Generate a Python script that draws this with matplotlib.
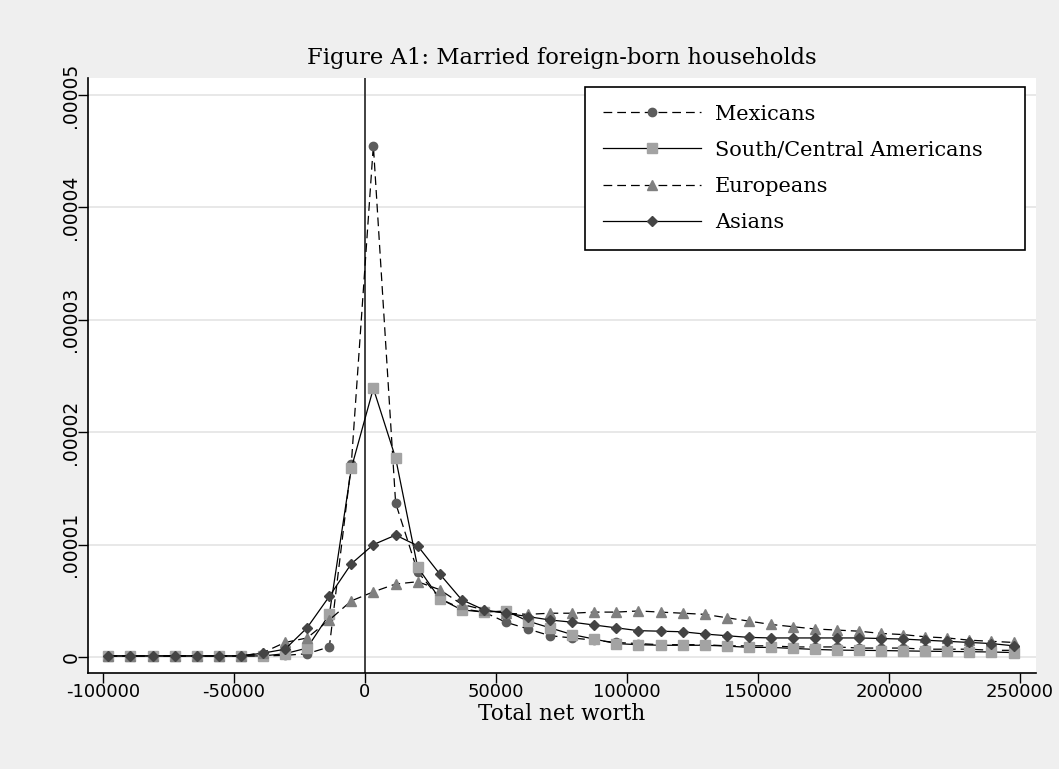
import matplotlib
matplotlib.use("Agg")
import matplotlib.pyplot as plt

# Puntos de evaluacion de la densidad (patrimonio neto total)
net_worth = [
    -97900, -89500, -81000, -72600, -64200, -55800, -47300, -38900, -30500,
    -22100, -13600, -5200, 3200, 11700, 20100, 28500, 36900, 45400, 53800,
    62200, 70600, 79100, 87500, 95900, 104300, 112800, 121200, 129600,
    138000, 146500, 154900, 163300, 171700, 180200, 188600, 197000, 205400,
    213900, 222300, 230700, 239100, 247600,
]

# Densidades en unidades de 1e-5
mexicans = [
    0.01, 0.01, 0.01, 0.01, 0.01, 0.01, 0.01, 0.01, 0.015, 0.03, 0.09, 1.72,
    4.55, 1.37, 0.76, 0.52, 0.43, 0.40, 0.31, 0.25, 0.19, 0.17, 0.15, 0.13,
    0.12, 0.11, 0.11, 0.11, 0.10, 0.10, 0.10, 0.09, 0.09, 0.09, 0.08, 0.08,
    0.08, 0.07, 0.07, 0.07, 0.06, 0.06,
]
south_central = [
    0.01, 0.01, 0.01, 0.01, 0.01, 0.01, 0.01, 0.01, 0.03, 0.08, 0.38, 1.68,
    2.39, 1.77, 0.80, 0.52, 0.42, 0.40, 0.41, 0.32, 0.26, 0.20, 0.16, 0.12,
    0.11, 0.105, 0.105, 0.105, 0.098, 0.086, 0.086, 0.077, 0.068, 0.062,
    0.06, 0.058, 0.055, 0.052, 0.05, 0.048, 0.045, 0.04,
]
europeans = [
    0.01, 0.01, 0.01, 0.01, 0.01, 0.01, 0.01, 0.04, 0.13, 0.17, 0.33, 0.50,
    0.58, 0.65, 0.67, 0.60, 0.47, 0.42, 0.39, 0.38, 0.39, 0.39, 0.40, 0.40,
    0.41, 0.40, 0.39, 0.38, 0.35, 0.32, 0.29, 0.27, 0.25, 0.24, 0.23, 0.21,
    0.20, 0.18, 0.17, 0.15, 0.14, 0.13,
]
asians = [
    0.01, 0.01, 0.01, 0.01, 0.01, 0.01, 0.01, 0.035, 0.07, 0.26, 0.54, 0.83,
    1.00, 1.085, 0.99, 0.74, 0.51, 0.42, 0.39, 0.36, 0.33, 0.31, 0.285, 0.26,
    0.235, 0.23, 0.225, 0.205, 0.19, 0.175, 0.17, 0.17, 0.17, 0.17, 0.17,
    0.165, 0.16, 0.15, 0.14, 0.13, 0.12, 0.10,
]
SCALE = 1e-5

x_ticks = [-100000, -50000, 0, 50000, 100000, 150000, 200000, 250000]
y_ticks = [0, 0.00001, 0.00002, 0.00003, 0.00004, 0.00005]
y_tick_labels = ["0", ".00001", ".00002", ".00003", ".00004", ".00005"]

serif = "DejaVu Serif"
sans = "DejaVu Sans"

fig = plt.figure(figsize=(10.59, 7.69), dpi=100, facecolor="#efefef")
ax = fig.add_axes([0.0831, 0.1248, 0.8952, 0.7738])
ax.set_facecolor("white")

dash = (0, (7, 4))
series = [
    ("Mexicans", mexicans, dash, "o", "#5c5c5c", 6),
    ("South/Central Americans", south_central, "-", "s", "#a3a3a3", 7.5),
    ("Europeans", europeans, dash, "^", "#808080", 7),
    ("Asians", asians, "-", "D", "#444444", 5.5),
]
for name, vals, ls, mk, col, ms in series:
    ax.plot(net_worth, [v * SCALE for v in vals], linestyle=ls, color="black",
            linewidth=0.9, marker=mk, markersize=ms, markerfacecolor=col,
            markeredgecolor=col, label=name)

# Linea vertical en cero
ax.axvline(0, color="#333333", linewidth=1.3, zorder=1)

ax.set_xlim(-105700, 256100)
ax.set_ylim(-0.142e-5, 5.151e-5)

ax.set_yticks(y_ticks)
ax.set_yticklabels(y_tick_labels, rotation=90, va="center", family=sans,
                   fontsize=13.5)
ax.set_xticks(x_ticks)
ax.set_xticklabels([str(t) for t in x_ticks], family=sans, fontsize=13)
ax.tick_params(axis="both", direction="out", length=7.5, width=1,
               color="black")
ax.tick_params(axis="x", pad=0)
ax.tick_params(axis="y", pad=-2)

ax.grid(axis="y", color="#e6e6e6", linewidth=1.3, zorder=0)
ax.set_axisbelow(True)

for side in ["top", "right"]:
    ax.spines[side].set_visible(False)
for side in ["left", "bottom"]:
    ax.spines[side].set_linewidth(1.2)
    ax.spines[side].set_color("black")

ax.set_title("Figure A1: Married foreign-born households", family=serif,
             fontsize=16.3, pad=10)
ax.set_xlabel("Total net worth", family=serif, fontsize=15.5, labelpad=1)

# Leyenda con ancho fijo (mode expand) como en el original
leg = ax.legend(loc="upper left", bbox_to_anchor=(0.5243, 0.7176, 0.4641, 0.2673),
                mode="expand", numpoints=1, handlelength=4.7, labelspacing=0.82,
                prop={"family": serif, "size": 15}, fancybox=False,
                framealpha=1, edgecolor="black", borderpad=0.85,
                handletextpad=0.7, borderaxespad=0)
leg.get_frame().set_linewidth(1.2)

fig.savefig("out.png", dpi=100, facecolor=fig.get_facecolor())
